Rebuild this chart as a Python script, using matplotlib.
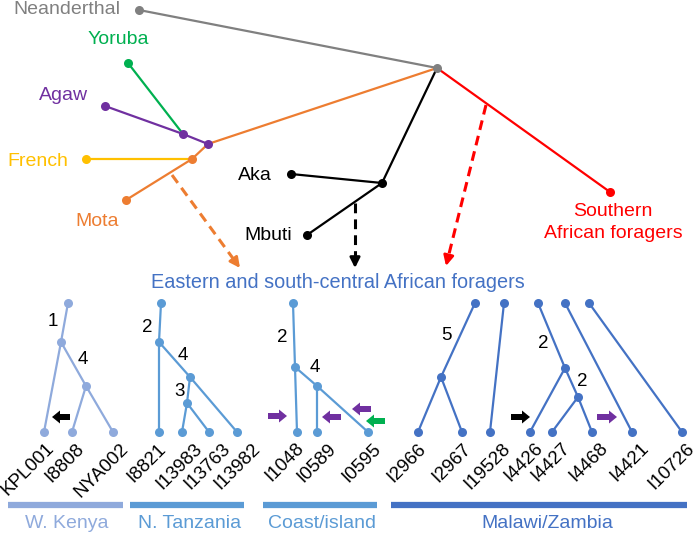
import matplotlib
matplotlib.use('Agg')
import matplotlib.pyplot as plt
from matplotlib.patches import FancyArrow

plt.rcParams['font.family'] = ['Liberation Sans', 'DejaVu Sans']

# ---------------- data: top tree (pixel layout of the diagram) ----------------
top_names = ['root', 'neand', 'yoruba', 'agaw', 'yagaw', 'eurasia', 'fr_join', 'french',
             'mota', 'central', 'aka', 'mbuti', 'south']
top_x = [437, 139, 128, 105, 183, 208, 192, 86, 126, 382, 291, 307, 610]
top_y = [68, 10, 63, 106, 134, 144, 159, 159, 200, 183, 174, 235, 192]
top_node_colors = ['#808080', '#808080', '#00B050', '#7030A0', '#7030A0', '#7030A0',
                   '#ED7D31', '#FFC000', '#ED7D31', 'black', 'black', 'black', '#FF0000']
top_edges = [('root', 'neand', '#808080'), ('root', 'eurasia', '#ED7D31'),
             ('eurasia', 'yagaw', '#7030A0'), ('yagaw', 'yoruba', '#00B050'),
             ('yagaw', 'agaw', '#7030A0'), ('eurasia', 'fr_join', '#ED7D31'),
             ('fr_join', 'mota', '#ED7D31'), ('fr_join', 'french', '#FFC000'),
             ('root', 'central', 'black'), ('central', 'aka', 'black'),
             ('central', 'mbuti', 'black'), ('root', 'south', '#FF0000')]
top_labels = ['Neanderthal', 'Yoruba', 'Agaw', 'French', 'Mota', 'Aka', 'Mbuti',
              'Southern', 'African foragers']
top_label_x = [120, 118, 64, 38, 97, 255, 268, 613, 613]
top_label_y = [9, 40, 95, 162, 222, 176, 235, 212, 233]
top_label_ha = ['right', 'center', 'center', 'center', 'center', 'center', 'center',
                'center', 'center']
top_label_colors = ['#808080', '#00B050', '#7030A0', '#FFC000', '#ED7D31', 'black', 'black',
                    '#FF0000', '#FF0000']

# gene-flow (dashed) arrows: start -> tip
flow_start_x = [172, 355, 486]
flow_start_y = [175, 203, 105]
flow_tip_x = [240, 355, 446]
flow_tip_y = [268, 268, 266]
flow_colors = ['#ED7D31', 'black', '#FF0000']

# ---------------- data: bottom trees ----------------
groups = ['W. Kenya', 'N. Tanzania', 'Coast/island', 'Malawi/Zambia']
group_colors = ['#8FAADC', '#5B9BD5', '#5B9BD5', '#4472C4']
group_bar_x0 = [8, 130, 263, 391]
group_bar_x1 = [123, 244, 377, 687]
group_label_x = [67, 190, 322, 547]

leaf_names = [['KPL001', 'I8808', 'NYA002'],
              ['I8821', 'I13983', 'I13763', 'I13982'],
              ['I1048', 'I0589', 'I0595'],
              ['I2966', 'I2967', 'I19528', 'I4426', 'I4427', 'I4468', 'I4421', 'I10726']]
leaf_x = [[44, 72, 113],
          [159, 182, 209, 237],
          [297, 317, 368],
          [418, 462, 490, 530, 552, 592, 632, 682]]
leaf_label_dx = [[10, 11, 15],
                 [6, 20, 21, 23],
                 [6, 18, 12],
                 [7, 8, 20, 12, 17, 15, 16, 12]]

# internal nodes (top = y 303)
int_names = [['t', 'a', 'b'],
             ['t', 'a', 'b', 'c'],
             ['t', 'a', 'b'],
             ['t1', 't2', 't3', 't4', 't5', 'A', 'B', 'C']]
int_x = [[68, 61, 86],
         [161, 159, 190, 187],
         [293, 295, 317],
         [475, 504, 538, 565, 589, 441, 565, 578]]
int_y = [[303, 342, 386],
         [303, 342, 377, 403],
         [303, 367, 386],
         [303, 303, 303, 303, 303, 377, 368, 397]]
sub_edges = [[('t', 'a'), ('a', 'KPL001'), ('a', 'b'), ('b', 'I8808'), ('b', 'NYA002')],
             [('t', 'a'), ('a', 'I8821'), ('a', 'b'), ('b', 'c'), ('b', 'I13982'),
              ('c', 'I13983'), ('c', 'I13763')],
             [('t', 'a'), ('a', 'I1048'), ('a', 'b'), ('b', 'I0589'), ('b', 'I0595')],
             [('t1', 'A'), ('A', 'I2966'), ('A', 'I2967'), ('t2', 'I19528'), ('t3', 'B'),
              ('B', 'I4426'), ('B', 'C'), ('C', 'I4427'), ('C', 'I4468'), ('t4', 'I4421'),
              ('t5', 'I10726')]]
branch_nums = [['1', '4'], ['2', '4', '3'], ['2', '4'], ['5', '2', '2']]
branch_num_x = [[53, 83], [147, 183, 180], [282, 315], [446, 543, 582]]
branch_num_y = [[322, 360], [327, 356, 392], [337, 368], [335, 343, 382]]

# admixture block arrows: tail x, tip x, y
blk_tail_x = [70, 268, 341, 371, 385, 511, 597]
blk_tip_x = [52, 287, 322, 352, 366, 530, 617]
blk_y = [417, 416, 417, 409, 421, 417, 417]
blk_colors = ['black', '#7030A0', '#7030A0', '#7030A0', '#00B050', 'black', '#7030A0']

LEAF_Y = 432
BAR_Y = 505
FS = 14
FS_LEAF = 13.5

# ---------------- drawing ----------------
fig = plt.figure(figsize=(6.98, 5.33), dpi=100)
ax = fig.add_axes([0, 0, 1, 1])
ax.set_xlim(0, 698)
ax.set_ylim(533, 0)
ax.axis('off')

pos = {n: (x, y) for n, x, y in zip(top_names, top_x, top_y)}
for a, b, c in top_edges:
    ax.plot([pos[a][0], pos[b][0]], [pos[a][1], pos[b][1]], color=c, lw=1.6,
            solid_capstyle='round', zorder=2)
for n, c in zip(top_names, top_node_colors):
    ax.plot(pos[n][0], pos[n][1], 'o', color=c, ms=6.5, mec='none', zorder=3)
for t, x, y, ha, c in zip(top_labels, top_label_x, top_label_y, top_label_ha, top_label_colors):
    ax.text(x, y, t, ha=ha, va='center', color=c, fontsize=FS)

for sx, sy, tx, ty, c in zip(flow_start_x, flow_start_y, flow_tip_x, flow_tip_y, flow_colors):
    dx, dy = tx - sx, ty - sy
    L = (dx ** 2 + dy ** 2) ** 0.5
    ux, uy = dx / L, dy / L
    mx, my = tx - 7 * ux, ty - 7 * uy
    ax.plot([sx, mx], [sy, my], color=c, lw=2.2, dashes=(3.2, 2.0), zorder=2)
    ax.annotate('', xy=(tx, ty), xytext=(mx - 2 * ux, my - 2 * uy),
                arrowprops=dict(arrowstyle='-|>,head_length=0.6,head_width=0.3',
                                color=c, lw=2.0, shrinkA=0, shrinkB=0), zorder=3)

ax.text(338, 283, 'Eastern and south-central African foragers', ha='center', va='center',
        color='#4472C4', fontsize=14.3)

for g in range(len(groups)):
    col = group_colors[g]
    p = {n: (x, y) for n, x, y in zip(int_names[g], int_x[g], int_y[g])}
    for n, x in zip(leaf_names[g], leaf_x[g]):
        p[n] = (x, LEAF_Y)
    for a, b in sub_edges[g]:
        ax.plot([p[a][0], p[b][0]], [p[a][1], p[b][1]], color=col, lw=1.6, zorder=2)
    for n in p:
        ax.plot(p[n][0], p[n][1], 'o', color=col, ms=6.5, mec='none', zorder=3)
    for n, x, d in zip(leaf_names[g], leaf_x[g], leaf_label_dx[g]):
        ax.text(x + d - 8, 440, n, rotation=45, rotation_mode='anchor', ha='right',
                va='top', fontsize=FS_LEAF, color='black')
    for t, x, y in zip(branch_nums[g], branch_num_x[g], branch_num_y[g]):
        ax.text(x, y, t, ha='center', va='center', fontsize=FS_LEAF, color='black')
    ax.plot([group_bar_x0[g], group_bar_x1[g]], [BAR_Y, BAR_Y], color=col, lw=4.5,
            solid_capstyle='butt')
    ax.text(group_label_x[g], 523, groups[g], ha='center', va='center', color=col, fontsize=FS)

for tx0, tx1, y, c in zip(blk_tail_x, blk_tip_x, blk_y, blk_colors):
    ax.add_patch(FancyArrow(tx0, y, tx1 - tx0, 0, width=6, head_width=13, head_length=8,
                            length_includes_head=True, color=c, lw=0, zorder=4))

fig.savefig('out.png', dpi=100)
